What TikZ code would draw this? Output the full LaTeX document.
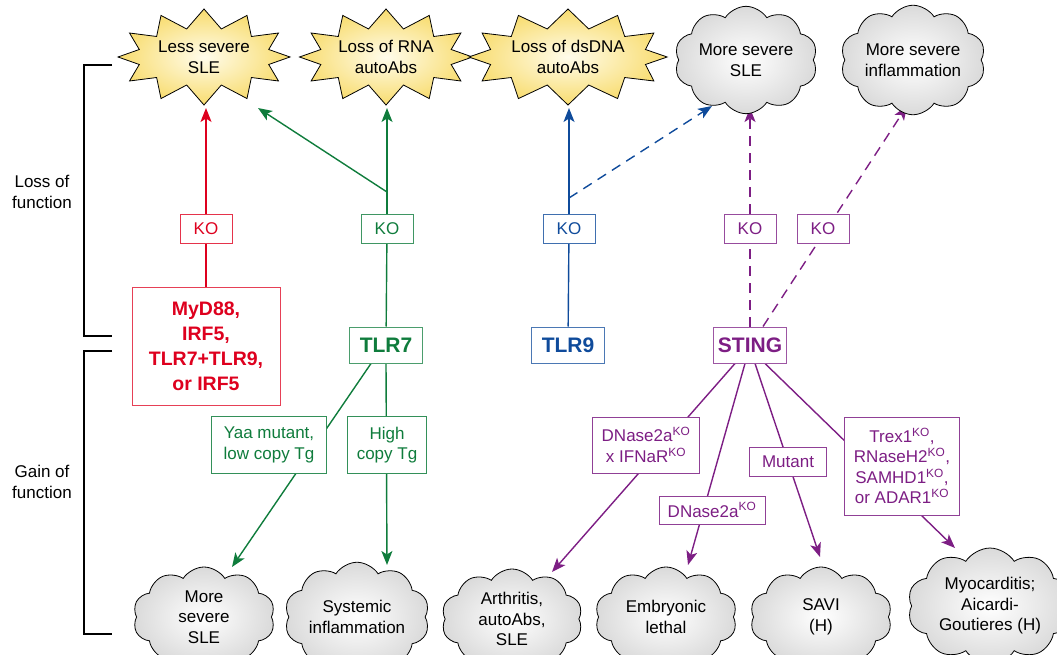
\documentclass[tikz,border=0pt]{standalone}
\usepackage{fontspec}
\setmainfont{Liberation Sans}
\usetikzlibrary{shapes.symbols,arrows.meta,backgrounds}
\definecolor{cred}{RGB}{222,0,30}
\definecolor{cgreen}{RGB}{15,124,60}
\definecolor{cblue}{RGB}{15,75,155}
\definecolor{cpurple}{RGB}{125,30,132}
\definecolor{staryel}{RGB}{248,220,110}
\definecolor{staryin}{RGB}{255,252,235}
\definecolor{cloudout}{RGB}{218,218,218}
\begin{document}
\begin{tikzpicture}[x=1pt,y=-1pt,
  every node/.style={font=\fontsize{17}{20.5}\selectfont, align=center},
  burst/.style={starburst, starburst points=12, starburst point height=19pt, random starburst=0,
    draw=black, line width=0.8pt, inner color=staryin, outer color=staryel,
    minimum width=172pt, minimum height=96pt, inner sep=0pt},
  cloudy/.style={cloud, cloud puffs=10, cloud puff arc=115, aspect=1.5, draw=black, line width=0.8pt,
    inner color=white, outer color=cloudout, inner sep=0pt},
  kobox/.style={draw=#1!80, fill=white, text=#1, line width=1pt, minimum width=52pt, minimum height=29pt, inner sep=2pt},
  genebox/.style={draw=#1!75, fill=white, text=#1, line width=1pt, font=\fontsize{21}{25}\selectfont\bfseries,
    minimum width=73pt, minimum height=36pt, inner sep=2pt},
  lbl/.style={draw=#1!85, fill=white, text=#1, line width=1pt, inner sep=3pt},
  conn/.style={draw=#1, line width=1.4pt},
  arr/.style={-{Stealth[length=14pt,width=11pt,inset=3.5pt]}},
  dsh/.style={dash pattern=on 10pt off 7pt},
  brk/.style={draw=black, line width=1.3pt}]
\useasboundingbox (0,0) rectangle (1057,655);

% outcome shapes, top
\node[burst] (s1) at (204,57) {Less severe\\SLE};
\node[burst] (s2) at (386,57) {Loss of RNA\\autoAbs};
\node[burst] (s3) at (568,57) {Loss of dsDNA\\autoAbs};
\node[cloudy, minimum width=143pt, minimum height=90pt] (c1) at (746,60) {More severe\\SLE};
\node[cloudy, minimum width=143pt, minimum height=90pt] (c2) at (913,60) {More severe\\inflammation};

% outcome clouds, bottom
\node[cloudy, minimum width=142pt, minimum height=100pt] (b1) at (204,617) {More\\severe\\SLE};
\node[cloudy, minimum width=142pt, minimum height=100pt] (b2) at (357,617) {Systemic\\inflammation};
\node[cloudy, minimum width=141pt, minimum height=100pt] (b3) at (512,619) {Arthritis,\\autoAbs,\\SLE};
\node[cloudy, minimum width=142pt, minimum height=100pt] (b4) at (666,617) {Embryonic\\lethal};
\node[cloudy, minimum width=142pt, minimum height=100pt] (b5) at (821,617) {SAVI\\(H)};
\node[cloudy, minimum width=165pt, minimum height=115pt] (b6) at (990,606) {Myocarditis;\\Aicardi-\\Goutieres (H)};

% brackets and side labels
\draw[brk] (112,65) -- (84,65) -- (84,336) -- (112,336);
\draw[brk] (112,351) -- (84,351) -- (84,634) -- (112,634);
\node (lof) at (42,192) {Loss of\\function};
\node (gof) at (42,482) {Gain of\\function};

% genes
\node[genebox=cred, minimum width=148pt, minimum height=118pt, font=\fontsize{19.5}{25}\selectfont\bfseries] (myd) at (206,346) {MyD88,\\IRF5,\\TLR7+TLR9,\\or IRF5};
\node[genebox=cgreen] (tlr7) at (386,345) {TLR7};
\node[genebox=cblue] (tlr9) at (568,345) {TLR9};
\node[genebox=cpurple] (sting) at (750,345) {STING};

% KO labels
\node[kobox=cred] (ko1) at (206,229) {KO};
\node[kobox=cgreen] (ko2) at (387,229) {KO};
\node[kobox=cblue] (ko3) at (569,229) {KO};
\node[kobox=cpurple] (ko4) at (750,229) {KO};
\node[kobox=cpurple] (ko5) at (823,229) {KO};

% gain-of-function labels
\node[lbl=cgreen, minimum width=115pt, minimum height=57pt] (yaa) at (269,445) {Yaa mutant,\\low copy Tg};
\node[lbl=cgreen, minimum width=79pt, minimum height=57pt] (high) at (387,445) {High\\copy Tg};
\node[lbl=cpurple, minimum width=107pt, minimum height=56pt] (dnx) at (646,445) {DNase2a\textsuperscript{KO}\\x IFNaR\textsuperscript{KO}};
\node[lbl=cpurple, minimum width=106pt, minimum height=28pt] (dn) at (712,510) {DNase2a\textsuperscript{KO}};
\node[lbl=cpurple, minimum width=77pt, minimum height=29pt] (mut) at (788,462) {Mutant};
\node[lbl=cpurple, minimum width=115pt, minimum height=98pt] (trex) at (902,466) {Trex1\textsuperscript{KO},\\RNaseH2\textsuperscript{KO},\\SAMHD1\textsuperscript{KO},\\or ADAR1\textsuperscript{KO}};

% arrow end points
\coordinate (t1) at (206,108);
\coordinate (t1b) at (258,108);
\coordinate (t2) at (387,108);
\coordinate (t3) at (569,108);
\coordinate (t4) at (712,106);
\coordinate (t5) at (750,108);
\coordinate (t6) at (907,106);
\coordinate (br7) at (387,192);
\coordinate (br9) at (569,198);
\coordinate (u1) at (232,567);
\coordinate (u2) at (387,565);
\coordinate (u3) at (552,572);
\coordinate (u4) at (688,565);
\coordinate (u5) at (820,557);
\coordinate (u6) at (955,548);

\begin{scope}[on background layer]
% red
\draw[conn=cred] (myd) -- (ko1);
\draw[conn=cred, arr] (ko1) -- (t1);
% green
\draw[conn=cgreen] (tlr7) -- (ko2);
\draw[conn=cgreen, arr] (ko2) -- (t2);
\draw[conn=cgreen, arr] (br7) -- (t1b);
\draw[conn=cgreen, arr] ([xshift=-15pt]tlr7.south) -- (u1);
\draw[conn=cgreen, arr] (tlr7.south) -- (u2);
% blue
\draw[conn=cblue] (tlr9) -- (ko3);
\draw[conn=cblue, arr] (ko3) -- (t3);
\draw[conn=cblue, dsh, arr] (br9) -- (t4);
% purple
\draw[conn=cpurple, dsh] (sting) -- (ko4);
\draw[conn=cpurple, dsh, arr] (ko4) -- (t5);
\draw[conn=cpurple, dsh, arr] ([xshift=13pt]sting.north) -- (t6);
\draw[conn=cpurple, arr] ([xshift=-15pt]sting.south) -- (u3);
\draw[conn=cpurple, arr] ([xshift=-5pt]sting.south) -- (u4);
\draw[conn=cpurple, arr] ([xshift=5pt]sting.south) -- (u5);
\draw[conn=cpurple, arr] ([xshift=15pt]sting.south) -- (u6);
\end{scope}
\end{tikzpicture}
\end{document}
